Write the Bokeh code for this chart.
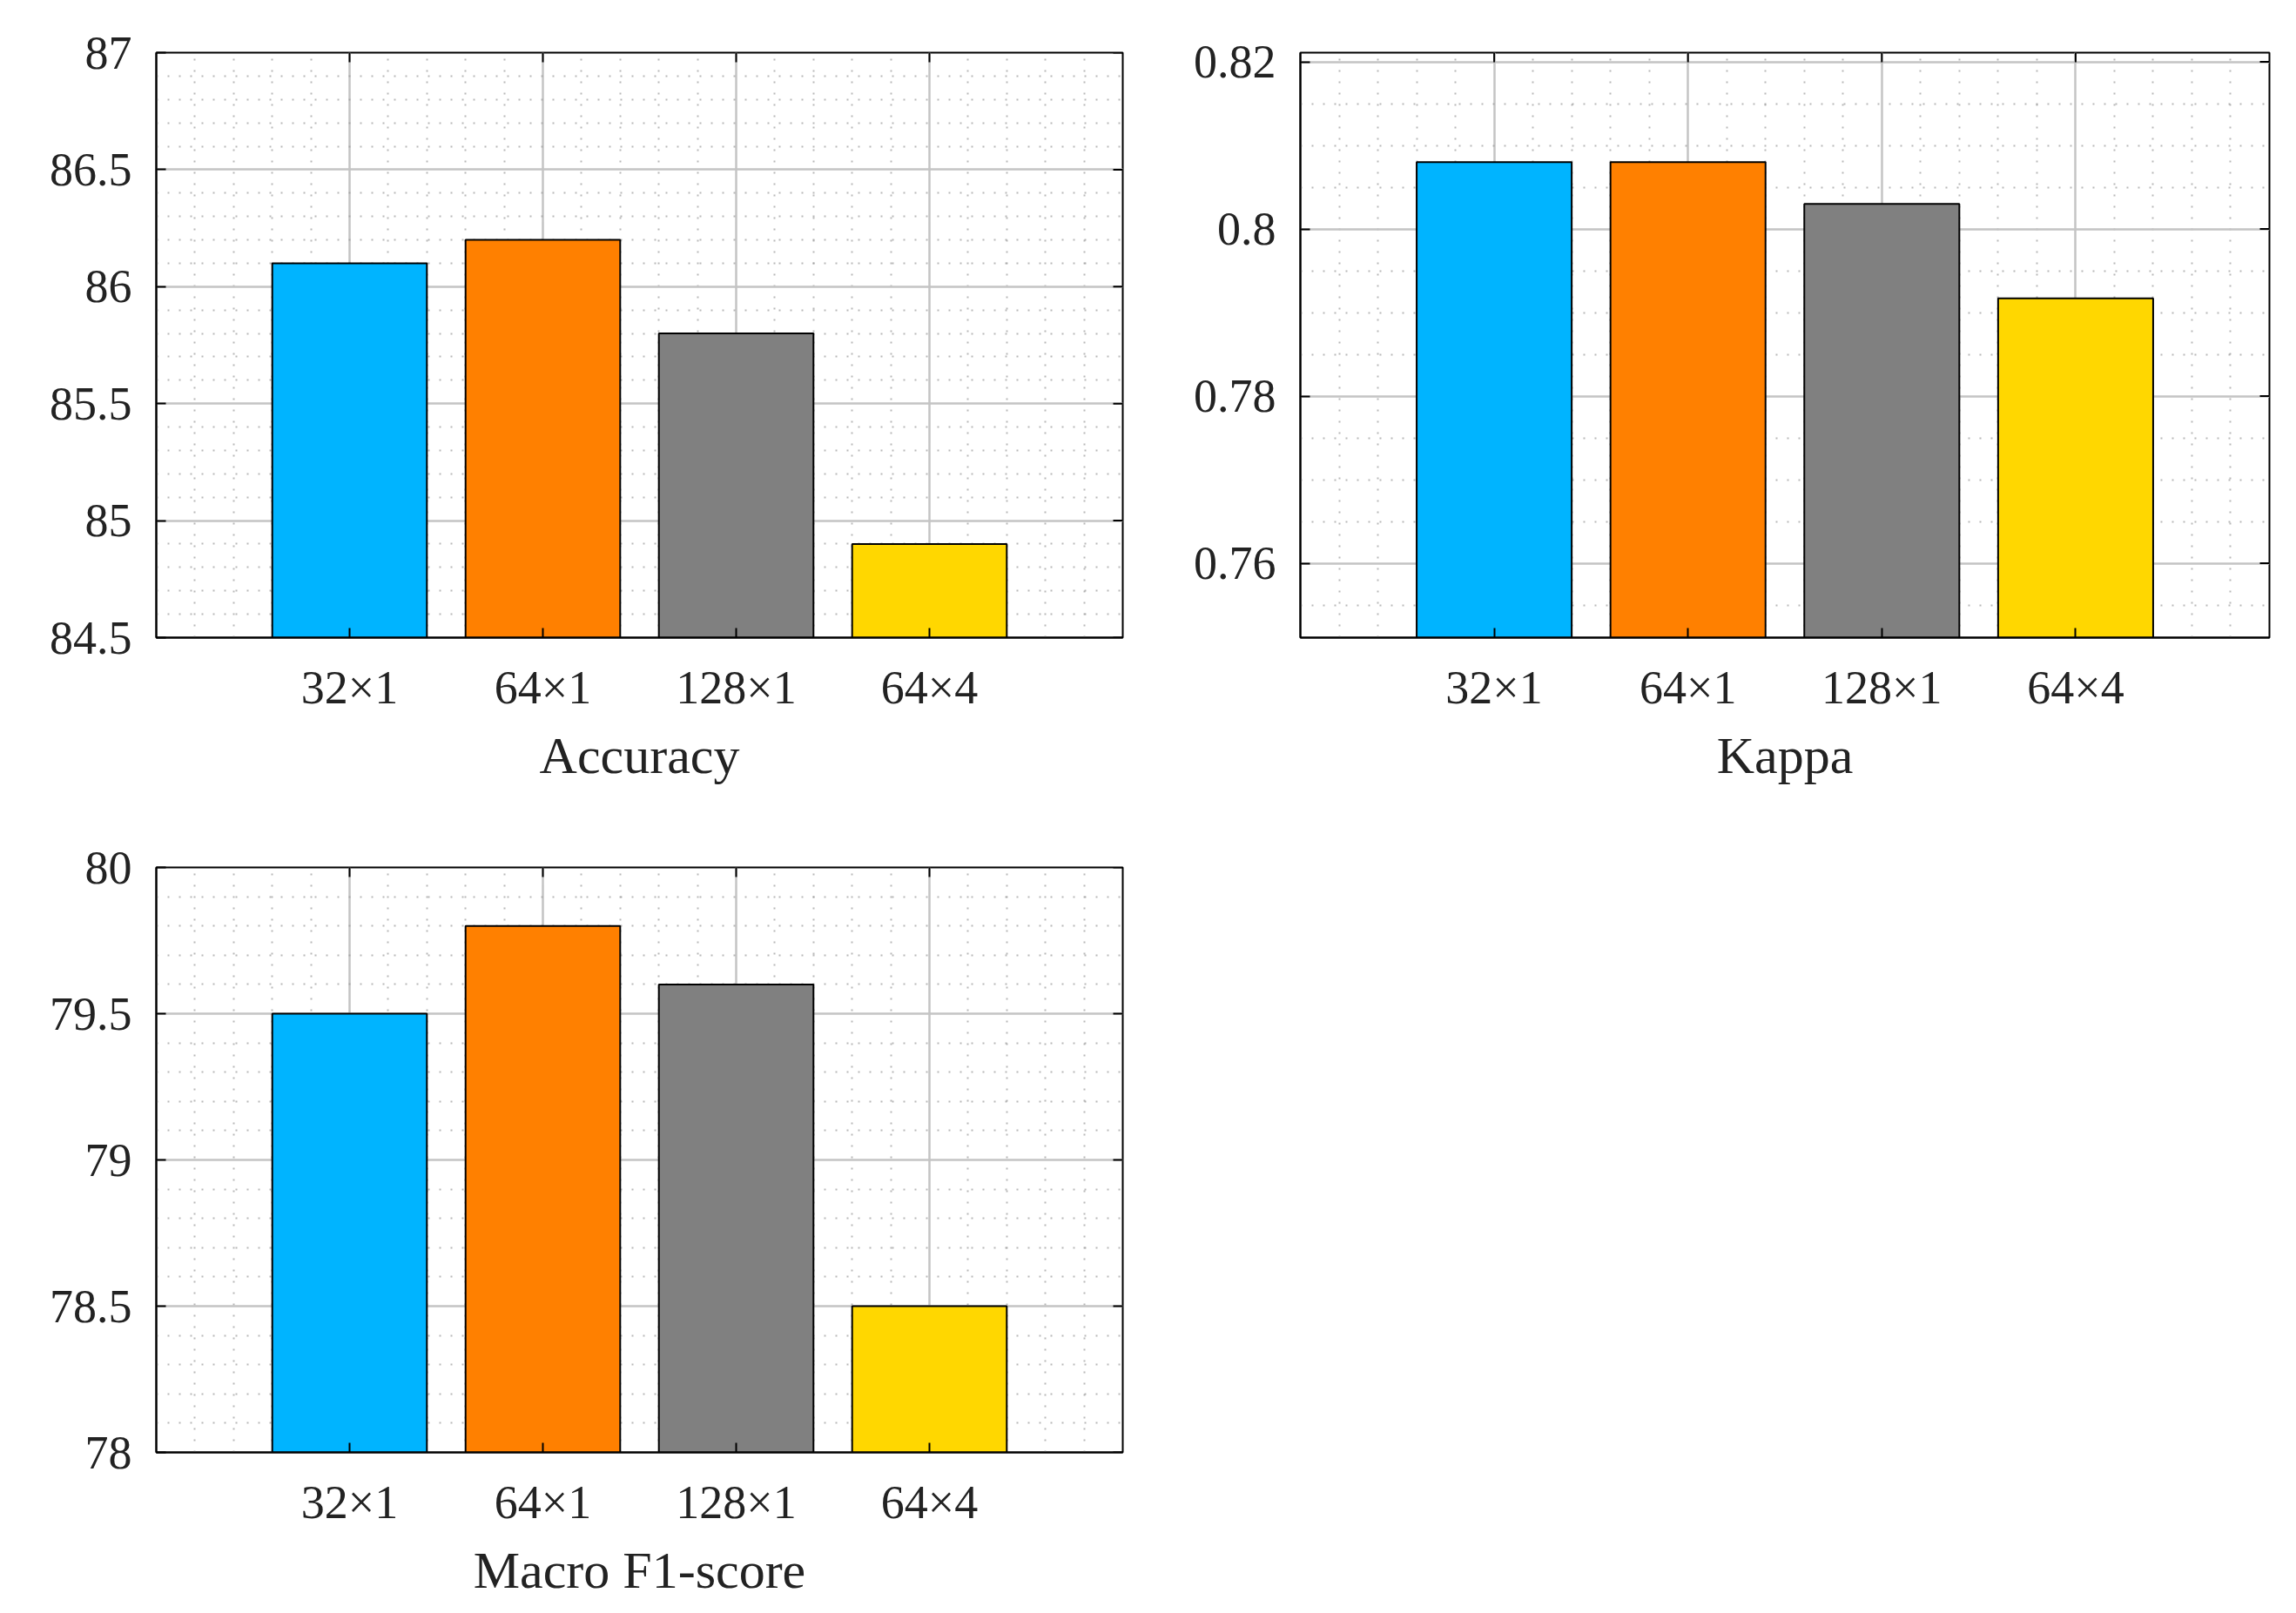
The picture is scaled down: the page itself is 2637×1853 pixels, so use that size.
import math
from bokeh.plotting import figure
from bokeh.models import FixedTicker, Range1d
from bokeh.layouts import column, row
from bokeh.embed import file_html
from bokeh.resources import INLINE

# ---- data ----
categories = ["32×1", "64×1", "128×1", "64×4"]
bar_colors = ["#00B4FF", "#FF8000", "#808080", "#FFD700"]

accuracy = [86.1, 86.2, 85.8, 84.9]
kappa = [0.808, 0.808, 0.803, 0.7917]
macro_f1 = [79.5, 79.8, 79.6, 78.5]

acc_ticks = [84.5, 85, 85.5, 86, 86.5, 87]
acc_tick_labels = ["84.5", "85", "85.5", "86", "86.5", "87"]
kappa_ticks = [0.76, 0.78, 0.80, 0.82]
kappa_tick_labels = ["0.76", "0.78", "0.8", "0.82"]
f1_ticks = [78, 78.5, 79, 79.5, 80]
f1_tick_labels = ["78", "78.5", "79", "79.5", "80"]

acc_range = (84.5, 87.0)
kappa_range = (0.7511, 0.8211)
f1_range = (78.0, 80.0)

FONT = "Liberation Serif"
TXT = "#222222"
TICK_PX = 11


def minor_list(lo, hi, step, majors):
    k0 = math.ceil(lo / step - 1e-6)
    k1 = math.floor(hi / step + 1e-6)
    vals = [round(k * step, 6) for k in range(k0, k1 + 1)]
    return [v for v in vals if all(abs(v - m) > 1e-9 for m in majors)]


def make(values, label, yr, yticks, ylabels, ystep, bl, bt, br, bb, fw=1110, fh=672):
    n = len(categories)
    xpos = [i + 1 for i in range(n)]
    xr = (0, n + 1)
    p = figure(output_backend="svg", toolbar_location=None,
               frame_width=fw, frame_height=fh,
               min_border_left=bl, min_border_top=bt,
               min_border_right=br, min_border_bottom=bb,
               x_range=Range1d(*xr), y_range=Range1d(*yr))
    p.background_fill_color = "white"
    p.border_fill_color = "white"
    p.outline_line_color = "black"
    p.outline_line_width = 2

    p.vbar(x=xpos, top=values, bottom=yr[0], width=0.8,
           fill_color=bar_colors, line_color="black", line_width=2)

    # box ticks on top and right edges (inward), from the tick lists
    dy = TICK_PX / fh * (yr[1] - yr[0])
    dx = TICK_PX / fw * (xr[1] - xr[0])
    p.segment(x0=xpos, y0=[yr[1]] * n, x1=xpos, y1=[yr[1] - dy] * n,
              line_color="black", line_width=2)
    p.segment(x0=[xr[1]] * len(yticks), y0=yticks,
              x1=[xr[1] - dx] * len(yticks), y1=yticks,
              line_color="black", line_width=2)

    xminor = minor_list(xr[0], xr[1], 0.2, xpos)
    yminor = minor_list(yr[0], yr[1], ystep, yticks)
    xt = FixedTicker(ticks=xpos, minor_ticks=xminor)
    yt = FixedTicker(ticks=yticks, minor_ticks=yminor)

    xa = p.xaxis[0]
    ya = p.yaxis[0]
    xa.ticker = xt
    ya.ticker = yt
    xa.major_label_overrides = {x: c for x, c in zip(xpos, categories)}
    ya.major_label_overrides = {t: s for t, s in zip(yticks, ylabels)}
    xa.axis_label = label

    for ax in (xa, ya):
        ax.major_label_text_font = FONT
        ax.major_label_text_font_size = "54px"
        ax.major_label_text_color = TXT
        ax.axis_label_text_font = FONT
        ax.axis_label_text_font_size = "60px"
        ax.axis_label_text_font_style = "normal"
        ax.axis_label_text_color = TXT
        ax.axis_line_color = "black"
        ax.axis_line_width = 2
        ax.major_tick_in = TICK_PX
        ax.major_tick_out = 0
        ax.major_tick_line_color = "black"
        ax.major_tick_line_width = 2
        ax.minor_tick_in = 0
        ax.minor_tick_out = 0
    xa.major_label_standoff = 27
    xa.axis_label_standoff = 12
    ya.major_label_standoff = 28

    for g in (p.xgrid[0], p.ygrid[0]):
        g.grid_line_color = "#c4c4c4"
        g.grid_line_width = 2.5
        g.minor_grid_line_color = "#9a9a9a"
        g.minor_grid_line_width = 2
        g.minor_grid_line_alpha = 0.7
        g.minor_grid_line_dash = "2 11"
    return p


p1 = make(accuracy, "Accuracy", acc_range, acc_ticks, acc_tick_labels, 0.1,
          179, 60, 20, 190)
p2 = make(kappa, "Kappa", kappa_range, kappa_ticks, kappa_tick_labels, 0.005,
          184, 60, 12, 190, fw=1113)
p3 = make(macro_f1, "Macro F1-score", f1_range, f1_ticks, f1_tick_labels, 0.1,
          179, 74, 20, 160)

layout = column(row(p1, p2, spacing=0), p3, spacing=0)
layout.background = "white"

open("out.html", "w").write(file_html(layout, INLINE))
